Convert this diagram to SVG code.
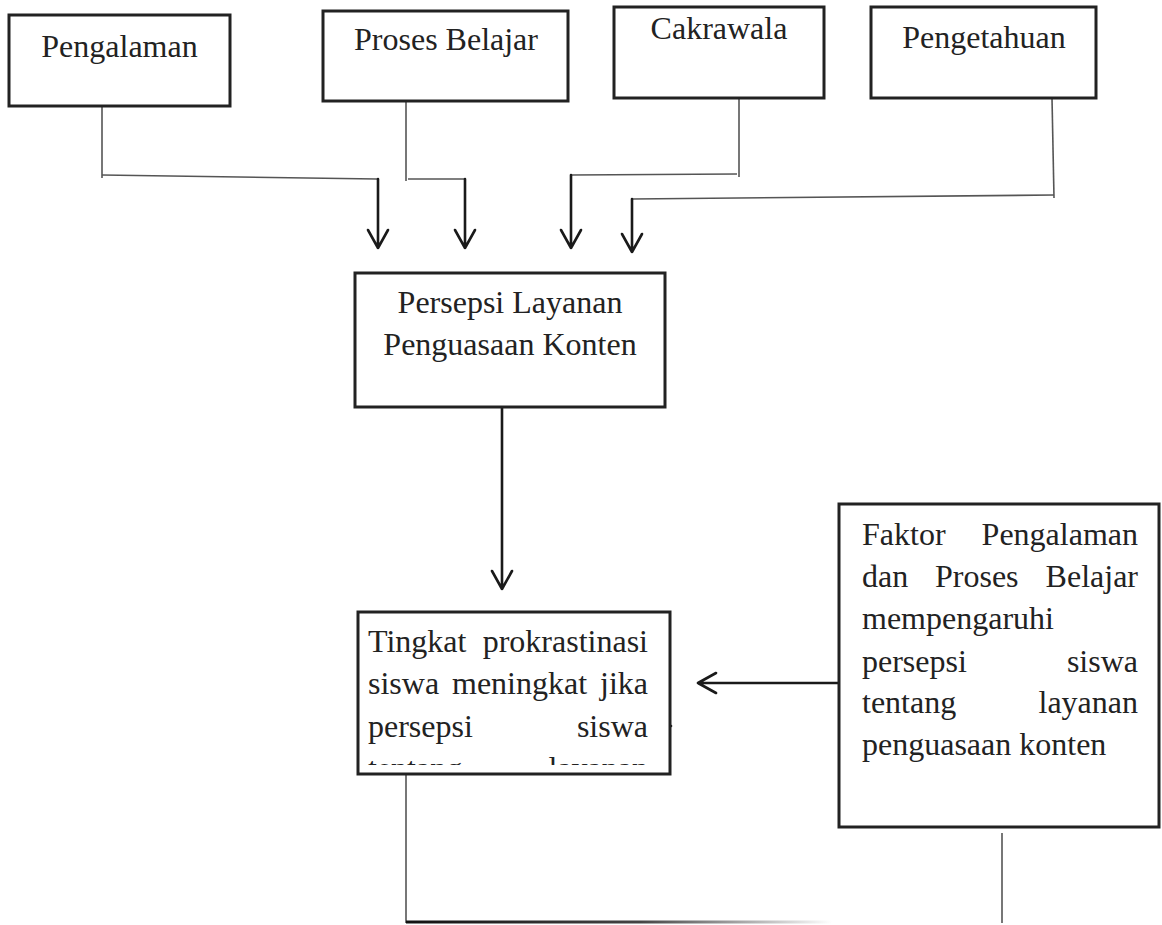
<svg xmlns="http://www.w3.org/2000/svg" width="1162" height="925" viewBox="0 0 1162 925">
<style>
  .box { fill: #fff; stroke: #222; stroke-width: 3; }
  .t { font-family: "Liberation Serif", "Times New Roman", serif; font-size: 32px; fill: #222; }
  .thin { fill: none; stroke: #555; stroke-width: 1.6; }
  .arr { fill: none; stroke: #1a1a1a; stroke-width: 2.6; stroke-linecap: round; stroke-linejoin: round; }
</style>
<defs>
  <clipPath id="clipT"><rect x="358" y="612" width="312" height="153"/></clipPath>
  <linearGradient id="fade" gradientUnits="userSpaceOnUse" x1="406" y1="0" x2="832" y2="0">
    <stop offset="0" stop-color="#111"/>
    <stop offset="0.55" stop-color="#444"/>
    <stop offset="1" stop-color="#fff"/>
  </linearGradient>
</defs>
<rect width="1162" height="925" fill="#fff"/>

<g id="connectors">
  <!-- Pengalaman -->
  <path class="thin" d="M102 106 V178"/>
  <path class="thin" d="M102 175 L377 179"/>
  <path class="arr" d="M378 179 V248 M368 230 L378 248 L388 230"/>
  <!-- Proses Belajar -->
  <path class="thin" d="M406 101 V181"/>
  <path class="thin" d="M408 179 H464"/>
  <path class="arr" d="M465 179 V248 M455 230 L465 248 L475 230"/>
  <!-- Cakrawala -->
  <path class="thin" d="M739 96 V177"/>
  <path class="thin" d="M571 175 L737 174"/>
  <path class="arr" d="M571 175 V248 M561 230 L571 248 L581 230"/>
  <!-- Pengetahuan -->
  <path class="thin" d="M1052 98 L1054 198"/>
  <path class="thin" d="M632 199 L1054 195"/>
  <path class="arr" d="M632 199 V252 M622 234 L632 252 L642 234"/>
  <!-- middle -->
  <path class="arr" d="M502 407 V589 M492 571 L502 589 L512 571"/>
  <!-- from Faktor to Tingkat -->
  <path class="arr" d="M839 683 H698 M716 673 L698 683 L716 693"/>
  <!-- bottom -->
  <path class="thin" d="M406 774 V923"/>
  <path class="thin" d="M1002 833 V923"/>
  <path d="M406 922 H832" stroke="url(#fade)" stroke-width="3" fill="none"/>
  <circle cx="671" cy="726" r="1.3" fill="#222"/>
</g>

<g id="n-pengalaman">
  <rect class="box" x="9" y="15" width="221" height="91"/>
  <text class="t" x="119.5" y="57" text-anchor="middle">Pengalaman</text>
</g>
<g id="n-proses">
  <rect class="box" x="323" y="11" width="245" height="90"/>
  <text class="t" x="446" y="50" text-anchor="middle">Proses Belajar</text>
</g>
<g id="n-cakrawala">
  <rect class="box" x="614" y="7" width="210" height="91"/>
  <text class="t" x="719" y="39" text-anchor="middle">Cakrawala</text>
</g>
<g id="n-pengetahuan">
  <rect class="box" x="871" y="7" width="225" height="91"/>
  <text class="t" x="984" y="48" text-anchor="middle">Pengetahuan</text>
</g>

<g id="n-persepsi">
  <rect class="box" x="355" y="273" width="310" height="134"/>
  <text class="t" x="510" y="313" text-anchor="middle">Persepsi Layanan</text>
  <text class="t" x="510" y="355" text-anchor="middle">Penguasaan Konten</text>
</g>

<g id="n-tingkat">
  <rect class="box" x="358" y="612" width="312" height="162"/>
  <g clip-path="url(#clipT)">
    <text class="t" x="368" y="652">Tingkat</text>
    <text class="t" x="648" y="652" text-anchor="end">prokrastinasi</text>
    <text class="t" x="368" y="694">siswa</text>
    <text class="t" x="452" y="694">meningkat</text>
    <text class="t" x="648" y="694" text-anchor="end">jika</text>
    <text class="t" x="368" y="737">persepsi</text>
    <text class="t" x="648" y="737" text-anchor="end">siswa</text>
    <text class="t" x="368" y="779">tentang</text>
    <text class="t" x="648" y="779" text-anchor="end">layanan</text>
  </g>
</g>

<g id="n-faktor">
  <rect class="box" x="839" y="504" width="320" height="323"/>
  <text class="t" x="862" y="545">Faktor</text>
  <text class="t" x="1138" y="545" text-anchor="end">Pengalaman</text>
  <text class="t" x="862" y="587">dan</text>
  <text class="t" x="935" y="587">Proses</text>
  <text class="t" x="1138" y="587" text-anchor="end">Belajar</text>
  <text class="t" x="862" y="629">mempengaruhi</text>
  <text class="t" x="862" y="672">persepsi</text>
  <text class="t" x="1138" y="672" text-anchor="end">siswa</text>
  <text class="t" x="862" y="713">tentang</text>
  <text class="t" x="1138" y="713" text-anchor="end">layanan</text>
  <text class="t" x="862" y="755">penguasaan konten</text>
</g>
</svg>
